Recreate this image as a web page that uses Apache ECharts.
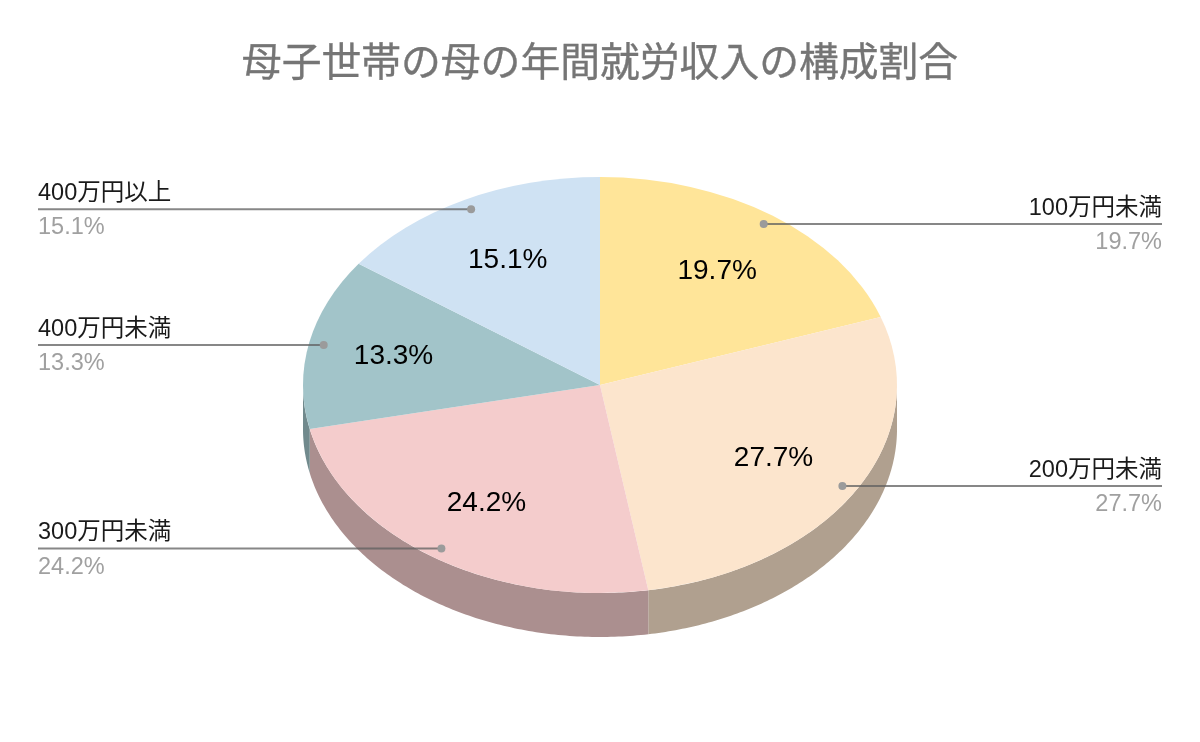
<!DOCTYPE html>
<html><head><meta charset="utf-8">
<style>html,body{margin:0;padding:0;background:#fff}#c{width:1200px;height:742px}</style>
<script src="https://cdn.jsdelivr.net/npm/echarts@6/dist/echarts.min.js"></script>
</head><body><div id="c"></div>
<script>
const chartTitle = '母子世帯の母の年間就労収入の構成割合';
const categories = ['100万円未満','200万円未満','300万円未満','400万円未満','400万円以上'];
const shares = [19.7,27.7,24.2,13.3,15.1];
const topColors = ['#FFE599','#FCE5CD','#F4CCCC','#A2C4C9','#CFE2F3'];
const wallColors = ['#B3A06B','#B0A08F','#AB8F8F','#718A8D','#919EAA'];

const CX=600, CY=385, RX=297, RY=208, DEPTH=44;
const FONT='"Liberation Sans","Noto Sans CJK JP",sans-serif';
const innerRadius=[0.68,0.68,0.68,0.71,0.68];
const total = shares.reduce((a,b)=>a+b,0);
function span(i){
  let before=0; for(let k=0;k<i;k++) before+=shares[k];
  return [before/total*Math.PI*2,(before+shares[i])/total*Math.PI*2];
}
function pt(a,f,dy){ return [CX+RX*f*Math.sin(a), CY-RY*f*Math.cos(a)+(dy||0)]; }

function renderWall(params,api){
  const [s,e]=span(params.dataIndex);
  const a=Math.max(s,Math.PI/2), b=Math.min(e,Math.PI*1.5);
  if(b<=a) return {type:'group',children:[]};
  const top=[],bot=[],n=120;
  for(let k=0;k<=n;k++){
    const t=a+(b-a)*k/n;
    top.push(pt(t,1,0)); bot.unshift(pt(t,1,DEPTH));
  }
  return {type:'polygon',shape:{points:top.concat(bot)},style:{fill:wallColors[params.dataIndex]}};
}
function renderTop(params,api){
  const [s,e]=span(params.dataIndex);
  return {type:'sector',x:CX,y:CY,scaleY:RY/RX,
    shape:{cx:0,cy:0,r0:0,r:RX,startAngle:s-Math.PI/2,endAngle:e-Math.PI/2,clockwise:true},
    style:{fill:topColors[params.dataIndex]}};
}
function renderLabel(params,api){
  const i=params.dataIndex, [s,e]=span(i), m=(s+e)/2;
  const d=pt(m,0.95), inner=pt(m,innerRadius[i],1), right=m<Math.PI;
  const edge=right?1162:38, align=right?'right':'left', pct=api.value(0).toFixed(1)+'%';
  return {type:'group',children:[
    {type:'line',shape:{x1:d[0],y1:d[1],x2:edge,y2:d[1]},style:{stroke:'#5f5f5f',lineWidth:2,opacity:0.75}},
    {type:'circle',shape:{cx:d[0],cy:d[1],r:4},style:{fill:'#9b9b9b'}},
    {type:'text',style:{x:inner[0],y:inner[1],text:pct,fill:'#000',font:'28px '+FONT,align:'center',verticalAlign:'middle'}},
    {type:'text',style:{x:edge,y:d[1]-4,text:categories[i],fill:'#1a1a1a',font:'23.5px '+FONT,align:align,verticalAlign:'bottom'}},
    {type:'text',style:{x:edge,y:d[1]+7,text:pct,fill:'#a0a0a0',font:'23.5px '+FONT,align:align,verticalAlign:'top'}}
  ]};
}
const rows=categories.map((c,i)=>({name:c,value:shares[i]}));
function layer(fn,z){return {type:'custom',coordinateSystem:'none',renderItem:fn,data:rows,z:z,silent:true,animation:false};}
const chart=echarts.init(document.getElementById('c'),null,{renderer:'canvas'});
chart.setOption({
  animation:false,backgroundColor:'#fff',
  title:{text:chartTitle,left:'center',top:40,textStyle:{color:'#757575',fontSize:39.8,fontWeight:'normal',fontFamily:FONT,textBorderColor:'#757575',textBorderWidth:0.35}},
  series:[layer(renderWall,1),layer(renderTop,2),layer(renderLabel,3)]
});
</script></body></html>
